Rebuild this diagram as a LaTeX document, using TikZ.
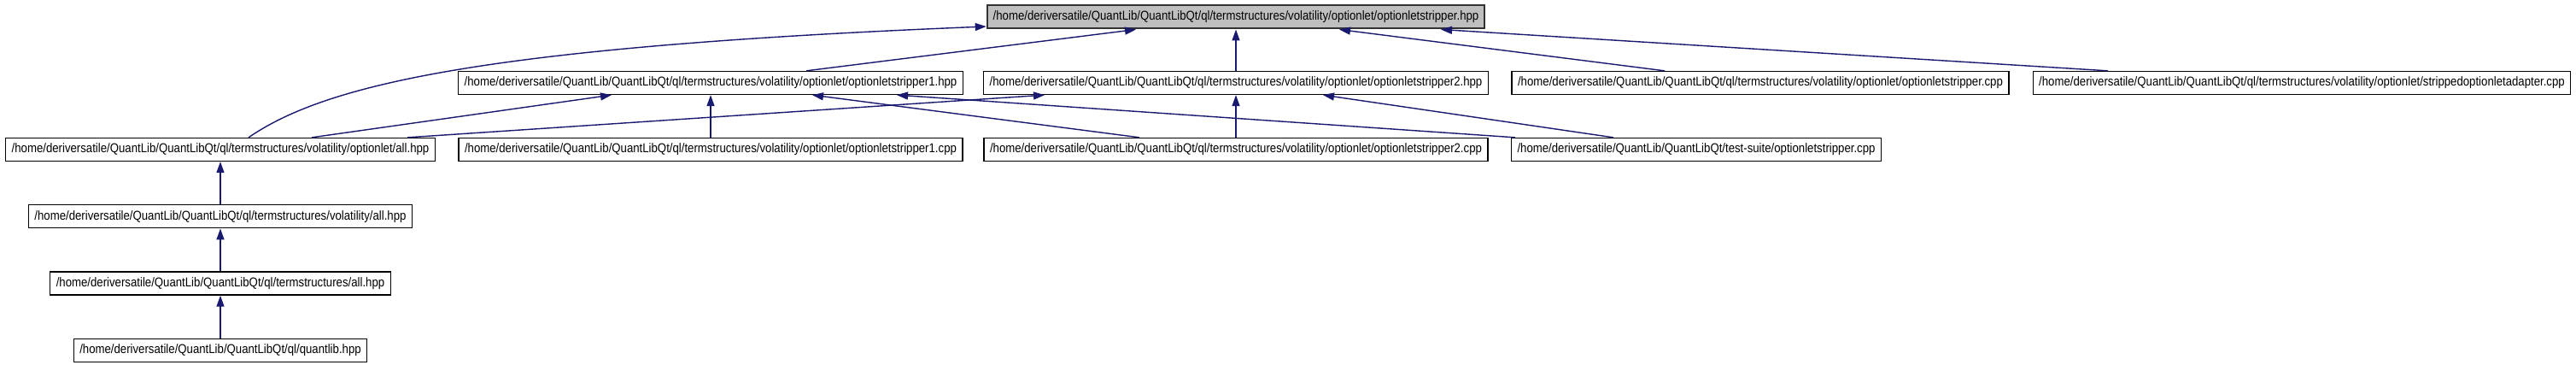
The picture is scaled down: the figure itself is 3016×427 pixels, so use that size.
\documentclass[tikz,border=0pt]{standalone}
\usepackage{fontspec}
\setmainfont[FakeStretch=0.88]{Liberation Sans}
\usepackage{tikz}
\usetikzlibrary{positioning, arrows.meta}
\definecolor{midblue}{HTML}{191970}
\tikzset{
    header/.style={rectangle, draw=black, line width=1.3pt, fill=white, inner xsep=7pt, inner ysep=0pt, minimum height=27pt, font=\fontsize{15}{18}\selectfont},
    focus/.style={fill=gray!50, draw=black!80, line width=2pt},
    line/.style={-{Triangle[length=13pt, width=9pt]}, midblue, line width=1.4pt}
}

\begin{document}
\begin{tikzpicture}[x=1pt, y=-1pt]
        	\fill[white] (0,0) rectangle (3016,427);
        	\useasboundingbox (0,0) rectangle (3016,427);
        	% Các file include optionletstripper.hpp
        	\node (root) [header, focus] at (1447,20) {/home/deriversatile/QuantLib/QuantLibQt/ql/termstructures/volatility/optionlet/optionletstripper.hpp};
        	\node (s1h) [header] at (832,97) {/home/deriversatile/QuantLib/QuantLibQt/ql/termstructures/volatility/optionlet/optionletstripper1.hpp};
        	\node (s2h) [header] at (1447,97) {/home/deriversatile/QuantLib/QuantLibQt/ql/termstructures/volatility/optionlet/optionletstripper2.hpp};
        	\node (scpp) [header] at (2061,97) {/home/deriversatile/QuantLib/QuantLibQt/ql/termstructures/volatility/optionlet/optionletstripper.cpp};
        	\node (adapt) [header] at (2695,97) {/home/deriversatile/QuantLib/QuantLibQt/ql/termstructures/volatility/optionlet/strippedoptionletadapter.cpp};
        	\node (allo) [header] at (258,175) {/home/deriversatile/QuantLib/QuantLibQt/ql/termstructures/volatility/optionlet/all.hpp};
        	\node (s1cpp) [header] at (832,175) {/home/deriversatile/QuantLib/QuantLibQt/ql/termstructures/volatility/optionlet/optionletstripper1.cpp};
        	\node (s2cpp) [header] at (1447,175) {/home/deriversatile/QuantLib/QuantLibQt/ql/termstructures/volatility/optionlet/optionletstripper2.cpp};
        	\node (test) [header] at (1986,175) {/home/deriversatile/QuantLib/QuantLibQt/test-suite/optionletstripper.cpp};
        	\node (volall) [header, below=50pt of allo] {/home/deriversatile/QuantLib/QuantLibQt/ql/termstructures/volatility/all.hpp};
        	\node (tsall) [header, below=50pt of volall] {/home/deriversatile/QuantLib/QuantLibQt/ql/termstructures/all.hpp};
        	\node (qlib) [header, below=50pt of tsall] {/home/deriversatile/QuantLib/QuantLibQt/ql/quantlib.hpp};
        	
        	\draw[line] ([xshift=33pt]allo.north) .. controls (380,100) and (560,55) .. ([yshift=-11pt]root.west);
        	\draw[line] ([xshift=112pt]s1h.north) -- ([xshift=-117pt]root.south);
        	\draw[line] (s2h.north) -- (root.south);
        	\draw[line] ([xshift=-112pt]scpp.north) -- ([xshift=121pt]root.south);
        	\draw[line] ([xshift=-227pt]adapt.north) -- ([xshift=240pt]root.south);
        	\draw[line] ([xshift=107pt]allo.north) -- ([xshift=-116pt]s1h.south);
        	\draw[line] (s1cpp.north) -- (s1h.south);
        	\draw[line] ([xshift=-113pt]s2cpp.north) -- ([xshift=119pt]s1h.south);
        	\draw[line] ([xshift=-212pt]test.north) -- ([xshift=218pt]s1h.south);
        	\draw[line] ([xshift=219pt]allo.north) -- ([xshift=-224pt]s2h.south);
        	\draw[line] (s2cpp.north) -- (s2h.south);
        	\draw[line] ([xshift=-97pt]test.north) -- ([xshift=102pt]s2h.south);
        	\draw[line] (volall.north) -- (allo.south);
        	\draw[line] (tsall.north) -- (volall.south);
        	\draw[line] (qlib.north) -- (tsall.south);
        	
        \end{tikzpicture}
\end{document}
